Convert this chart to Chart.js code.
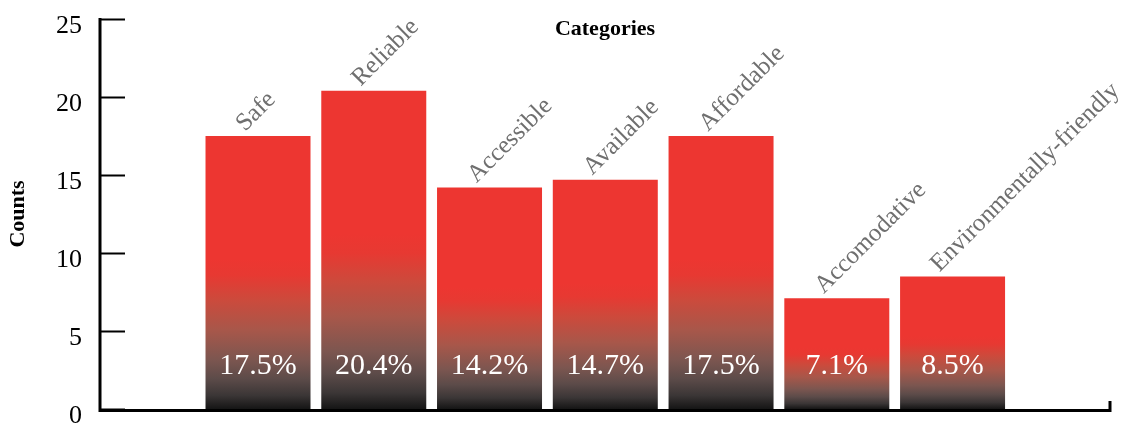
<!DOCTYPE html>
<html>
<head>
<meta charset="utf-8">
<script src="https://cdn.jsdelivr.net/npm/chart.js@4"></script>
<style>
  html, body { margin: 0; padding: 0; background: #fff; }
  #wrap { width: 1132px; height: 423px; }
</style>
</head>
<body>
<div id="wrap"><canvas id="myChart" width="1132" height="423"></canvas></div>
<script>
const categories = ['Safe', 'Reliable', 'Accessible', 'Available', 'Affordable', 'Accomodative', 'Environmentally-friendly'];
const counts = [17.5, 20.4, 14.2, 14.7, 17.5, 7.1, 8.5];
const yTicks = [0, 5, 10, 15, 20, 25];

const total = counts.reduce((a, b) => a + b, 0);
const percents = counts.map(v => (v / total * 100).toFixed(1) + '%');

const SERIF = '"Liberation Serif", "Times New Roman", serif';

// vertical fade: dark at the base, red from about half height up
function barFill(context) {
  const chart = context.chart;
  if (!chart.chartArea || context.parsed == null) return '#ed3631';
  const yScale = chart.scales.y;
  const top = yScale.getPixelForValue(context.parsed.y);
  const base = yScale.getPixelForValue(0);
  const g = chart.ctx.createLinearGradient(0, base, 0, top);
  g.addColorStop(0, '#151515');
  g.addColorStop(0.05, '#3b3636');
  g.addColorStop(0.11, '#5c4b49');
  g.addColorStop(0.18, '#7c5650');
  g.addColorStop(0.29, '#a8574a');
  g.addColorStop(0.40, '#cc4a3c');
  g.addColorStop(0.49, '#e73932');
  g.addColorStop(0.55, '#ed3631');
  g.addColorStop(1, '#ed3631');
  return g;
}

// axis lines, inward ticks, title and bar labels
const decorations = {
  id: 'decorations',
  afterDatasetsDraw(chart) {
    const { ctx, chartArea, scales } = chart;
    const y = scales.y;
    const y0 = y.getPixelForValue(0);
    ctx.save();

    ctx.strokeStyle = '#000';
    ctx.lineWidth = 3;
    ctx.beginPath();
    ctx.moveTo(chartArea.left, y.getPixelForValue(25) - 1);
    ctx.lineTo(chartArea.left, y0 + 1.5);
    ctx.lineTo(chartArea.right, y0 + 1.5);
    ctx.lineTo(chartArea.right, y0 - 8);
    ctx.stroke();

    ctx.lineWidth = 2;
    yTicks.forEach(t => {
      const py = Math.round(y.getPixelForValue(t)) + 0.5;
      ctx.beginPath();
      ctx.moveTo(chartArea.left, py);
      ctx.lineTo(chartArea.left + 25, py);
      ctx.stroke();
    });

    ctx.fillStyle = '#000';
    ctx.font = 'bold 22px ' + SERIF;
    ctx.textAlign = 'center';
    ctx.textBaseline = 'middle';
    ctx.fillText('Categories', (chartArea.left + chartArea.right) / 2, 29);

    const meta = chart.getDatasetMeta(0);
    meta.data.forEach((bar, i) => {
      ctx.fillStyle = '#ffffff';
      ctx.font = '30px ' + SERIF;
      ctx.textAlign = 'center';
      ctx.textBaseline = 'middle';
      ctx.fillText(percents[i], bar.x, y.getPixelForValue(2.75));

      ctx.save();
      ctx.translate(bar.x - 13, bar.y - 4);
      ctx.rotate(-Math.PI / 4);
      ctx.fillStyle = '#6f6f6f';
      ctx.font = '25px ' + SERIF;
      ctx.textAlign = 'left';
      ctx.textBaseline = 'alphabetic';
      ctx.fillText(categories[i], 0, 0);
      ctx.restore();
    });

    ctx.restore();
  }
};

const data = {
  datasets: [{
    label: 'Counts',
    data: counts.map((v, i) => ({ x: i, y: v })),
    backgroundColor: barFill,
    borderWidth: 0,
    categoryPercentage: 1,
    barPercentage: 0.907
  }]
};

const config = {
  type: 'bar',
  data,
  options: {
    responsive: false,
    animation: false,
    layout: { padding: { top: 19, right: 22, bottom: 14, left: 0 } },
    plugins: {
      legend: { display: false },
      tooltip: { enabled: false }
    },
    scales: {
      x: {
        type: 'linear',
        offset: false,
        min: -1.365,
        max: 7.36,
        display: false,
        grid: { display: false }
      },
      y: {
        min: 0,
        max: 25,
        afterFit(scale) {
          scale.width = 100;
          scale.paddingTop = 0;
          scale.paddingBottom = 0;
        },
        afterBuildTicks(scale) { scale.ticks = yTicks.map(v => ({ value: v })); },
        grid: { display: false, drawTicks: false },
        border: { display: false },
        ticks: {
          padding: 18,
          labelOffset: 7,
          color: '#000',
          font: { family: SERIF, size: 26, lineHeight: 1 }
        },
        title: {
          display: true,
          text: 'Counts',
          color: '#000',
          padding: { top: 5, bottom: 0 },
          font: { family: SERIF, size: 22, weight: 'bold' }
        }
      }
    }
  },
  plugins: [decorations]
};

const myChart = new Chart(document.getElementById('myChart'), config);
</script>
</body>
</html>
